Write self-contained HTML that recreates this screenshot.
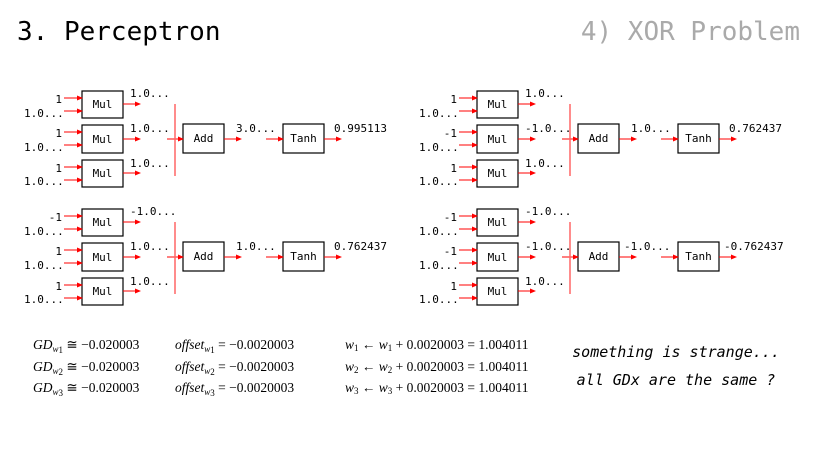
<!DOCTYPE html>
<html><head><meta charset="utf-8"><style>
body{margin:0;background:#fff;width:820px;height:461px;overflow:hidden}
svg text{font-family:"DejaVu Sans Mono","Liberation Mono",monospace}
.t{font-size:11px;fill:#000}
.b{fill:#fff;stroke:#000;stroke-width:1.2}
.a{stroke:#f00;stroke-width:1;fill:none;marker-end:url(#m)}
.bar{stroke:#f66;stroke-width:1.5}
.f{font-family:"Liberation Serif",serif;font-size:13.5px}
.s{font-size:9px}
</style></head><body>
<svg width="820" height="461" xmlns="http://www.w3.org/2000/svg">
<defs>
<marker id="m" markerWidth="6" markerHeight="6" refX="5" refY="3" orient="auto" markerUnits="userSpaceOnUse"><path d="M0,0.5 L6,3 L0,5.5z" fill="#f00"/></marker>
<g id="blk">
<rect class="b" x="82" y="91" width="41" height="27"/>
<rect class="b" x="82" y="125" width="41" height="28"/>
<rect class="b" x="82" y="160" width="41" height="27"/>
<rect class="b" x="183" y="124" width="41" height="29"/>
<rect class="b" x="283" y="124" width="41" height="29"/>
<text class="t" x="102.5" y="108" text-anchor="middle">Mul</text>
<text class="t" x="102.5" y="143" text-anchor="middle">Mul</text>
<text class="t" x="102.5" y="177" text-anchor="middle">Mul</text>
<text class="t" x="203.5" y="142" text-anchor="middle">Add</text>
<text class="t" x="303.5" y="142" text-anchor="middle">Tanh</text>
<path class="a" d="M64 98H82"/><path class="a" d="M64 111H82"/>
<path class="a" d="M64 132H82"/><path class="a" d="M64 145H82"/>
<path class="a" d="M64 167H82"/><path class="a" d="M64 180H82"/>
<path class="a" d="M123 104H140"/><path class="a" d="M123 139H140"/><path class="a" d="M123 173H140"/>
<path class="a" d="M167 139H183"/><path class="a" d="M224 139H241"/>
<path class="a" d="M266 139H283"/><path class="a" d="M324 139H341"/>
<line class="bar" x1="175" y1="104" x2="175" y2="176"/>
<text class="t" x="24" y="117">1.0...</text>
<text class="t" x="24" y="151">1.0...</text>
<text class="t" x="24" y="185">1.0...</text>
</g>
</defs>
<text x="17" y="40" style="font-size:26px">3. Perceptron</text>
<text x="800" y="40" text-anchor="end" style="font-size:26px;fill:#aaa">4) XOR Problem</text>

<use href="#blk"/>
<g class="t">
<text x="62" y="103" text-anchor="end">1</text><text x="62" y="137" text-anchor="end">1</text><text x="62" y="172" text-anchor="end">1</text>
<text x="130" y="97">1.0...</text><text x="130" y="132">1.0...</text><text x="130" y="167">1.0...</text>
<text x="236" y="132">3.0...</text><text x="334" y="132">0.995113</text>
</g>

<use href="#blk" transform="translate(0,118)"/>
<g class="t" transform="translate(0,118)">
<text x="62" y="103" text-anchor="end">-1</text><text x="62" y="137" text-anchor="end">1</text><text x="62" y="172" text-anchor="end">1</text>
<text x="130" y="97">-1.0...</text><text x="130" y="132">1.0...</text><text x="130" y="167">1.0...</text>
<text x="236" y="132">1.0...</text><text x="334" y="132">0.762437</text>
</g>

<use href="#blk" transform="translate(395,0)"/>
<g class="t" transform="translate(395,0)">
<text x="62" y="103" text-anchor="end">1</text><text x="62" y="137" text-anchor="end">-1</text><text x="62" y="172" text-anchor="end">1</text>
<text x="130" y="97">1.0...</text><text x="130" y="132">-1.0...</text><text x="130" y="167">1.0...</text>
<text x="236" y="132">1.0...</text><text x="334" y="132">0.762437</text>
</g>

<use href="#blk" transform="translate(395,118)"/>
<g class="t" transform="translate(395,118)">
<text x="62" y="103" text-anchor="end">-1</text><text x="62" y="137" text-anchor="end">-1</text><text x="62" y="172" text-anchor="end">1</text>
<text x="130" y="97">-1.0...</text><text x="130" y="132">-1.0...</text><text x="130" y="167">1.0...</text>
<text x="229" y="132">-1.0...</text><text x="329" y="132">-0.762437</text>
</g>

<g>
<text class="f" x="33" y="349"><tspan font-style="italic">GD</tspan><tspan class="s" font-style="italic" dy="3">w</tspan><tspan class="s" dy="1">1</tspan><tspan dy="-4"> ≅ −0.020003</tspan></text>
<text class="f" x="33" y="371"><tspan font-style="italic">GD</tspan><tspan class="s" font-style="italic" dy="3">w</tspan><tspan class="s" dy="1">2</tspan><tspan dy="-4"> ≅ −0.020003</tspan></text>
<text class="f" x="33" y="392"><tspan font-style="italic">GD</tspan><tspan class="s" font-style="italic" dy="3">w</tspan><tspan class="s" dy="1">3</tspan><tspan dy="-4"> ≅ −0.020003</tspan></text>
<text class="f" x="175" y="349"><tspan font-style="italic">offset</tspan><tspan class="s" font-style="italic" dy="3">w</tspan><tspan class="s" dy="1">1</tspan><tspan dy="-4"> = −0.0020003</tspan></text>
<text class="f" x="175" y="371"><tspan font-style="italic">offset</tspan><tspan class="s" font-style="italic" dy="3">w</tspan><tspan class="s" dy="1">2</tspan><tspan dy="-4"> = −0.0020003</tspan></text>
<text class="f" x="175" y="392"><tspan font-style="italic">offset</tspan><tspan class="s" font-style="italic" dy="3">w</tspan><tspan class="s" dy="1">3</tspan><tspan dy="-4"> = −0.0020003</tspan></text>
<text class="f" x="345" y="349"><tspan font-style="italic">w</tspan><tspan class="s" dy="2">1</tspan><tspan dy="-2"> ← </tspan><tspan font-style="italic">w</tspan><tspan class="s" dy="2">1</tspan><tspan dy="-2"> + 0.0020003 = 1.004011</tspan></text>
<text class="f" x="345" y="371"><tspan font-style="italic">w</tspan><tspan class="s" dy="2">2</tspan><tspan dy="-2"> ← </tspan><tspan font-style="italic">w</tspan><tspan class="s" dy="2">2</tspan><tspan dy="-2"> + 0.0020003 = 1.004011</tspan></text>
<text class="f" x="345" y="392"><tspan font-style="italic">w</tspan><tspan class="s" dy="2">3</tspan><tspan dy="-2"> ← </tspan><tspan font-style="italic">w</tspan><tspan class="s" dy="2">3</tspan><tspan dy="-2"> + 0.0020003 = 1.004011</tspan></text>
</g>
<text x="676" y="357" text-anchor="middle" style="font-size:15px;font-style:italic">something is strange...</text>
<text x="676" y="385" text-anchor="middle" style="font-size:15px;font-style:italic">all GDx are the same ?</text>
</svg>
</body></html>
